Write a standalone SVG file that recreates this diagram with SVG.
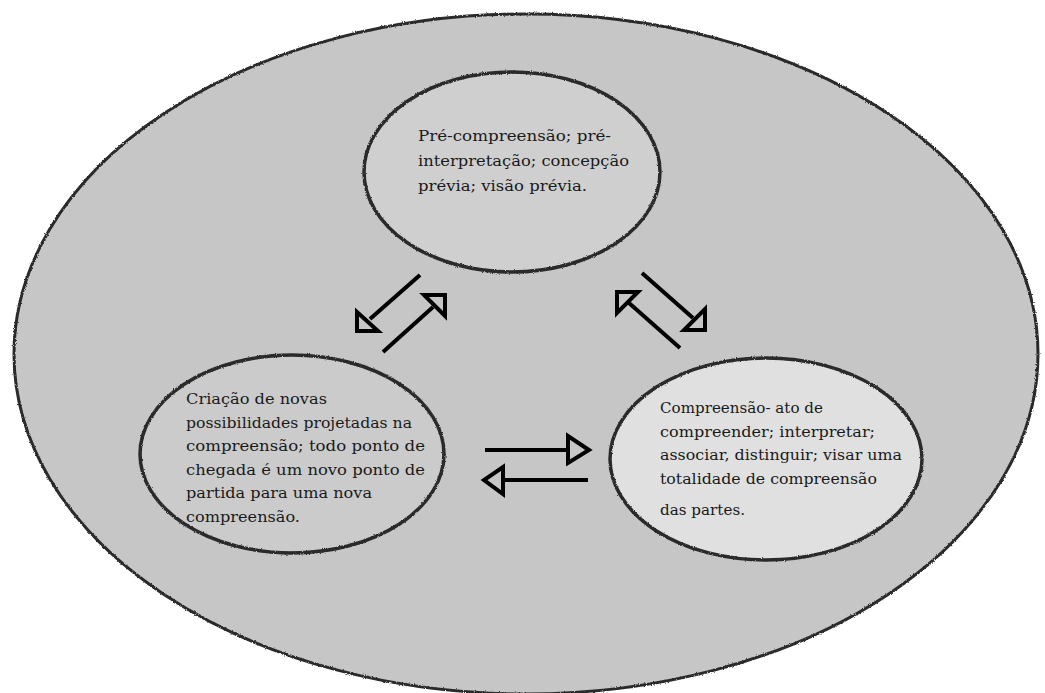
<svg xmlns="http://www.w3.org/2000/svg" width="1045" height="693" viewBox="0 0 1045 693">
<style>
.ring{stroke:#2a2a2a;stroke-width:3.5;filter:url(#rough)}
.t{font-family:"DejaVu Serif","Liberation Serif",serif;font-size:15px;fill:#1a1a1a}
.ln{stroke:#000;stroke-width:4;fill:none;stroke-linecap:butt}
.hd{stroke:#000;stroke-width:4;fill:none;stroke-linejoin:miter}
</style>
<defs>
<filter id="rough" x="-5%" y="-5%" width="110%" height="110%">
<feTurbulence type="fractalNoise" baseFrequency="0.9" numOctaves="2" seed="3" result="n"/>
<feDisplacementMap in="SourceGraphic" in2="n" scale="2.5" xChannelSelector="R" yChannelSelector="G"/>
</filter>
</defs>
<rect width="1045" height="693" fill="#fff"/>
<g id="outer">
<ellipse cx="526" cy="354" rx="512" ry="340" fill="#c6c6c6" class="ring" style="stroke-width:3"/>
</g>
<g id="node-top">
<ellipse cx="512" cy="172" rx="148" ry="100" fill="#cfcfcf" class="ring"/>
<text class="t"><tspan x="418" y="141" textLength="193" lengthAdjust="spacingAndGlyphs">Pré-compreensão; pré-</tspan><tspan x="418" y="166" textLength="211" lengthAdjust="spacingAndGlyphs">interpretação; concepção</tspan><tspan x="418" y="191" textLength="169" lengthAdjust="spacingAndGlyphs">prévia; visão prévia.</tspan></text>
</g>
<g id="node-left">
<ellipse cx="292" cy="454" rx="152" ry="99" fill="#cbcbcb" class="ring"/>
<text class="t"><tspan x="186" y="404" textLength="141" lengthAdjust="spacingAndGlyphs">Criação de novas</tspan><tspan x="186" y="428" textLength="226" lengthAdjust="spacingAndGlyphs">possibilidades projetadas na</tspan><tspan x="186" y="451" textLength="239" lengthAdjust="spacingAndGlyphs">compreensão; todo ponto de</tspan><tspan x="186" y="475" textLength="239" lengthAdjust="spacingAndGlyphs">chegada é um novo ponto de</tspan><tspan x="186" y="498" textLength="186" lengthAdjust="spacingAndGlyphs">partida para uma nova</tspan><tspan x="186" y="522" textLength="114" lengthAdjust="spacingAndGlyphs">compreensão.</tspan></text>
</g>
<g id="node-right">
<ellipse cx="766" cy="459" rx="156" ry="101" fill="#e0e0e0" class="ring"/>
<text class="t"><tspan x="660" y="413" textLength="163" lengthAdjust="spacingAndGlyphs">Compreensão- ato de</tspan><tspan x="660" y="437" textLength="215" lengthAdjust="spacingAndGlyphs">compreender; interpretar;</tspan><tspan x="660" y="460" textLength="242" lengthAdjust="spacingAndGlyphs">associar, distinguir; visar uma</tspan><tspan x="660" y="484" textLength="217" lengthAdjust="spacingAndGlyphs">totalidade de compreensão</tspan><tspan x="660" y="515" textLength="85" lengthAdjust="spacingAndGlyphs">das partes.</tspan></text>
</g>
<g id="connectors">
<line class="ln" x1="420" y1="275" x2="370" y2="319"/>
<polygon class="hd" points="357,331 357,312 378,331"/>
<line class="ln" x1="383" y1="352" x2="433" y2="307"/>
<polygon class="hd" points="445,295 424,295 445,316"/>
<line class="ln" x1="680" y1="348" x2="629" y2="303"/>
<polygon class="hd" points="617,292 638,292 617,313"/>
<line class="ln" x1="642" y1="273" x2="693" y2="318"/>
<polygon class="hd" points="705,330 684,330 705,309"/>
<line class="ln" x1="485" y1="450" x2="568" y2="450"/>
<polygon class="hd" points="568,436 568,463 589,450"/>
<line class="ln" x1="588" y1="480" x2="503" y2="480"/>
<polygon class="hd" points="503,467 503,494 484,480"/>
</g>
</svg>
